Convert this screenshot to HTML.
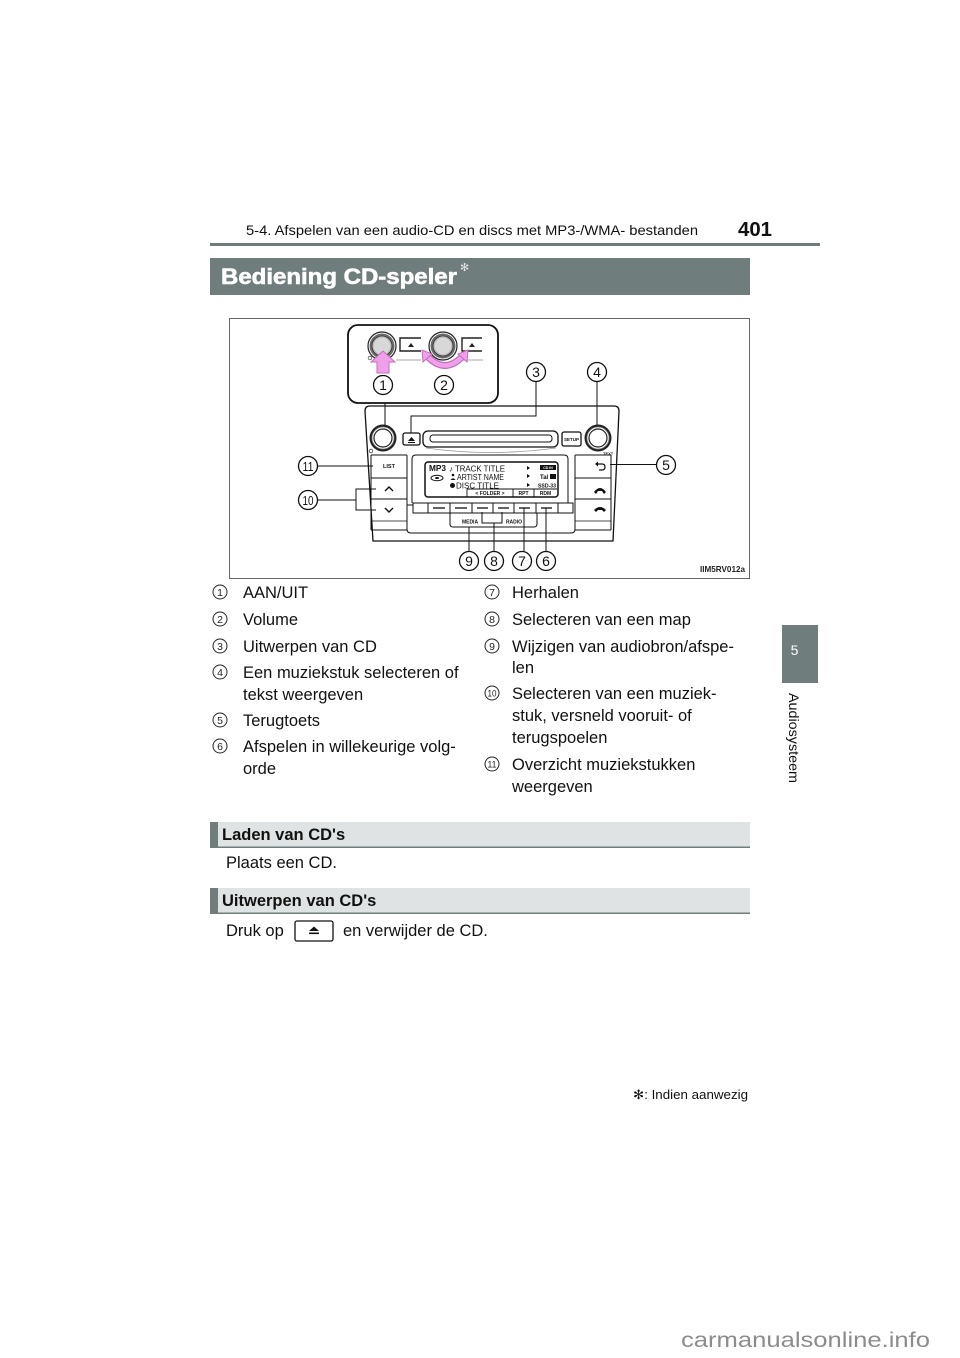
<!DOCTYPE html>
<html>
<head>
<meta charset="utf-8">
<style>
  html,body{margin:0;padding:0;background:#fff;}
  body{width:960px;height:1358px;overflow:hidden;}
  svg{display:block;}
  text{font-family:"Liberation Sans", Arial, sans-serif;}
</style>
</head>
<body>
<svg width="960" height="1358" viewBox="0 0 960 1358" xmlns="http://www.w3.org/2000/svg">
  <rect x="0" y="0" width="960" height="1358" fill="#fff"/>

  <!-- Header -->
  <text x="246" y="235" font-size="14" fill="#111" textLength="452" lengthAdjust="spacingAndGlyphs">5-4. Afspelen van een audio-CD en discs met MP3-/WMA- bestanden</text>
  <text x="738" y="236" font-size="20" font-weight="bold" fill="#111" textLength="34" lengthAdjust="spacingAndGlyphs">401</text>
  <rect x="210" y="243" width="610" height="3" fill="#6f7b7b"/>

  <!-- Title band -->
  <rect x="210" y="258" width="540" height="37" fill="#6f7d7c"/>
  <text x="221" y="284" font-size="22" font-weight="bold" fill="#fff" stroke="#fff" stroke-width="0.6" textLength="236" lengthAdjust="spacingAndGlyphs">Bediening CD-speler</text>
  <text x="460" y="271" font-size="11" fill="#e6e6e6" font-family="DejaVu Sans, sans-serif">✻</text>

  <!-- Diagram frame -->
  <rect x="229.5" y="318.5" width="520" height="260" fill="#fff" stroke="#666" stroke-width="1"/>

  <!-- Inset box -->
  <rect x="348" y="325" width="150" height="78" rx="10" ry="10" fill="#fff" stroke="#111" stroke-width="1.8"/>
  <!-- knob 1 -->
  <circle cx="382" cy="346" r="14" fill="#fff" stroke="#222" stroke-width="1.2"/>
  <circle cx="382" cy="346" r="12.5" fill="#6a6a6a"/>
  <circle cx="382" cy="346" r="10" fill="#bdbdbd" stroke="#333" stroke-width="0.8"/>
  <circle cx="382" cy="346" r="8.3" fill="#d8d8d8"/>
  <path d="M421,338 H400 V351 H421" fill="none" stroke="#222" stroke-width="1.4"/>
  <polygon points="408,347 414,347 411,343" fill="#222"/>
  <line x1="396" y1="360" x2="421" y2="360" stroke="#aaa" stroke-width="1"/>
  <circle cx="370" cy="358" r="1.8" fill="none" stroke="#555" stroke-width="0.8"/>
  <polygon points="383,351 371,362 377,362 377,373 389,373 389,362 395,362" fill="#f0a0ea" stroke="#c070b8" stroke-width="1"/>
  <!-- knob 2 -->
  <circle cx="443" cy="346" r="14" fill="#fff" stroke="#222" stroke-width="1.2"/>
  <circle cx="443" cy="346" r="12.5" fill="#6a6a6a"/>
  <circle cx="443" cy="346" r="10" fill="#bdbdbd" stroke="#333" stroke-width="0.8"/>
  <circle cx="443" cy="346" r="8.3" fill="#d8d8d8"/>
  <path d="M482,338 H462 V351 H482" fill="none" stroke="#222" stroke-width="1.4"/>
  <polygon points="469,347 475,347 472,343" fill="#222"/>
  <line x1="458" y1="360" x2="483" y2="360" stroke="#aaa" stroke-width="1"/>
  <!-- curved double arrow -->
  <path d="M428,357 Q445,374 462,357" fill="none" stroke="#c070b8" stroke-width="7"/>
  <path d="M428,357 Q445,374 462,357" fill="none" stroke="#f0a0ea" stroke-width="4.6"/>
  <polygon points="422,350 423,362 432,354" fill="#f0a0ea" stroke="#c070b8" stroke-width="1"/>
  <polygon points="468,350 467,362 458,354" fill="#f0a0ea" stroke="#c070b8" stroke-width="1"/>

  <!-- Main unit outline -->
  <path d="M365,411 Q365,406 370,406 H614 Q619,406 619,411 L613,541 H373 Z" fill="#fff" stroke="#111" stroke-width="1.3"/>
  <line x1="371" y1="455" x2="371" y2="530" stroke="#111" stroke-width="1"/>
  <line x1="611" y1="455" x2="611" y2="530" stroke="#111" stroke-width="1"/>
  <line x1="371" y1="530" x2="407" y2="530" stroke="#111" stroke-width="1"/>
  <line x1="575" y1="530" x2="611" y2="530" stroke="#111" stroke-width="1"/>

  <!-- knobs main -->
  <circle cx="383" cy="438" r="13.5" fill="#222"/>
  <circle cx="383" cy="438" r="11" fill="#fff" stroke="#888" stroke-width="0.8"/>
  <circle cx="383" cy="438" r="9" fill="#fff" stroke="#222" stroke-width="1.2"/>
  <circle cx="371" cy="451" r="1.8" fill="none" stroke="#444" stroke-width="0.8"/>
  <circle cx="598" cy="438" r="13.5" fill="#222"/>
  <circle cx="598" cy="438" r="11" fill="#fff" stroke="#888" stroke-width="0.8"/>
  <circle cx="598" cy="438" r="9" fill="#fff" stroke="#222" stroke-width="1.2"/>
  <text x="603" y="455" font-size="4" font-weight="bold" fill="#111">TEXT</text>

  <!-- eject, slot, setup -->
  <rect x="403" y="433" width="17" height="12" rx="2" fill="#fff" stroke="#111" stroke-width="1.3"/>
  <polygon points="408,441 415,441 411.5,437" fill="#111"/>
  <rect x="408" y="442" width="7" height="1" fill="#111"/>
  <rect x="423" y="431" width="135" height="16" rx="5" fill="#fff" stroke="#111" stroke-width="1.3"/>
  <rect x="430" y="435" width="122" height="7" rx="3" fill="#fff" stroke="#111" stroke-width="1"/>
  <path d="M426,448 Q490,457 556,448" fill="none" stroke="#999" stroke-width="0.8"/>
  <rect x="562" y="432" width="19" height="14" rx="2" fill="#fff" stroke="#111" stroke-width="1.3"/>
  <text x="571.5" y="441" font-size="4.5" font-weight="bold" fill="#111" text-anchor="middle">SETUP</text>

  <!-- left column -->
  <line x1="371" y1="455" x2="407" y2="455" stroke="#111" stroke-width="1"/>
  <line x1="371" y1="478" x2="407" y2="478" stroke="#111" stroke-width="1"/>
  <line x1="371" y1="499" x2="407" y2="499" stroke="#111" stroke-width="1"/>
  <line x1="371" y1="521" x2="407" y2="521" stroke="#111" stroke-width="0.8"/>
  <text x="389" y="468" font-size="5.5" font-weight="bold" fill="#111" text-anchor="middle">LIST</text>
  <path d="M385,491 L389,487 L393,491" fill="none" stroke="#111" stroke-width="1.4"/>
  <path d="M385,508 L389,512 L393,508" fill="none" stroke="#111" stroke-width="1.4"/>

  <!-- right column -->
  <line x1="575" y1="455" x2="611" y2="455" stroke="#111" stroke-width="1"/>
  <line x1="575" y1="478" x2="611" y2="478" stroke="#111" stroke-width="1"/>
  <line x1="575" y1="499" x2="611" y2="499" stroke="#111" stroke-width="1"/>
  <line x1="575" y1="521" x2="611" y2="521" stroke="#111" stroke-width="0.8"/>
  <path d="M597,464 H602 Q605,464 605,467 Q605,470 602,470 H599" fill="none" stroke="#111" stroke-width="1.2"/>
  <polygon points="595,464 598,461.5 598,466.5" fill="#111"/>
  <path d="M594,492 Q600,484 606,492 L604,494 L602,491 L598,491 L596,494 Z" fill="#111"/>
  <path d="M594,510 Q600,504 606,510 L604,512 L602,510 L598,510 L596,512 Z" fill="#111"/>

  <!-- center panel -->
  <path d="M407,455 V529 Q407,533 411,533 H571 Q575,533 575,529 V455" fill="none" stroke="#111" stroke-width="1"/>
  <path d="M412,503 V459 Q412,455 416,455 H564 Q568,455 568,459 V503" fill="none" stroke="#111" stroke-width="1"/>
  <!-- screen -->
  <rect x="425" y="462" width="133" height="35" rx="3" fill="#fff" stroke="#111" stroke-width="1.5"/>
  <text x="429" y="471" font-size="8.5" font-weight="bold" fill="#111" textLength="17" lengthAdjust="spacingAndGlyphs">MP3</text>
  <ellipse cx="437" cy="478" rx="6" ry="2.8" fill="#fff" stroke="#111" stroke-width="1"/>
  <ellipse cx="437" cy="478" rx="2" ry="1" fill="#111"/>
  <text x="449" y="471.5" font-size="8" fill="#111" textLength="56" lengthAdjust="spacingAndGlyphs">♪ TRACK TITLE</text>
  <circle cx="453" cy="475" r="1.3" fill="#111"/>
  <path d="M450.5,480 Q453,476.5 455.5,480 Z" fill="#111"/>
  <text x="457" y="480" font-size="8" fill="#111" textLength="47" lengthAdjust="spacingAndGlyphs">ARTIST NAME</text>
  <circle cx="452.5" cy="485.5" r="2.5" fill="#111"/>
  <text x="456" y="488.5" font-size="8" fill="#111" textLength="43" lengthAdjust="spacingAndGlyphs">DISC TITLE</text>
  <polygon points="527,466 527,470 530,468" fill="#111"/>
  <polygon points="527,474 527,478 530,476" fill="#111"/>
  <polygon points="527,483 527,487 530,485" fill="#111"/>
  <rect x="540" y="465" width="16" height="5" fill="#111"/>
  <text x="548" y="469" font-size="3.5" font-weight="bold" fill="#fff" text-anchor="middle">CD IN</text>
  <text x="540" y="479" font-size="6" font-weight="bold" fill="#111">Tal</text>
  <rect x="550" y="474" width="6" height="5" fill="#111"/>
  <text x="538" y="487.5" font-size="5" font-weight="bold" fill="#111" textLength="18" lengthAdjust="spacingAndGlyphs">SSD-33</text>
  <line x1="467" y1="489" x2="557" y2="489" stroke="#111" stroke-width="0.9"/>
  <line x1="467" y1="489" x2="467" y2="497" stroke="#111" stroke-width="0.9"/>
  <line x1="513" y1="489" x2="513" y2="497" stroke="#111" stroke-width="0.9"/>
  <line x1="534" y1="489" x2="534" y2="497" stroke="#111" stroke-width="0.9"/>
  <text x="490" y="495" font-size="5" font-weight="bold" fill="#111" text-anchor="middle">&lt; FOLDER &gt;</text>
  <text x="523.5" y="495" font-size="5" font-weight="bold" fill="#111" text-anchor="middle">RPT</text>
  <text x="545.5" y="495" font-size="5" font-weight="bold" fill="#111" text-anchor="middle">RDM</text>

  <!-- bottom button row -->
  <line x1="407" y1="505" x2="413" y2="505" stroke="#111" stroke-width="1"/>
  <rect x="413" y="503" width="160" height="10" fill="#fff" stroke="#111" stroke-width="1"/>
  <g stroke="#111" stroke-width="1">
    <line x1="428" y1="503" x2="428" y2="513"/>
    <line x1="450" y1="503" x2="450" y2="513"/>
    <line x1="472" y1="503" x2="472" y2="513"/>
    <line x1="493" y1="503" x2="493" y2="513"/>
    <line x1="514" y1="503" x2="514" y2="513"/>
    <line x1="536" y1="503" x2="536" y2="513"/>
    <line x1="558" y1="503" x2="558" y2="513"/>
  </g>
  <g stroke="#111" stroke-width="1.3">
    <line x1="433" y1="508" x2="445" y2="508"/>
    <line x1="455" y1="508" x2="467" y2="508"/>
    <line x1="477" y1="508" x2="488" y2="508"/>
    <line x1="498" y1="508" x2="509" y2="508"/>
    <line x1="519" y1="508" x2="530" y2="508"/>
    <line x1="541" y1="508" x2="552" y2="508"/>
  </g>
  <path d="M450,513 V524 Q450,527 453,527 H534 Q537,527 537,524 V513" fill="none" stroke="#111" stroke-width="1"/>
  <text x="470" y="523.5" font-size="5" font-weight="bold" fill="#111" text-anchor="middle">MEDIA</text>
  <text x="514" y="523.5" font-size="5" font-weight="bold" fill="#111" text-anchor="middle">RADIO</text>

  <!-- leaders -->
  <g fill="none" stroke="#111" stroke-width="1">
    <path d="M385,403 V425"/>
    <path d="M536,381.5 V416 H411 V433"/>
    <path d="M597,381.5 V425"/>
    <path d="M656.5,464.5 H610"/>
    <path d="M318,466 H373"/>
    <path d="M318,500 H356"/>
    <path d="M376,489 H356 V510 H376"/>
    <path d="M469,527 V551.5"/>
    <path d="M482,512 V523 H502 V512"/>
    <path d="M494,523 V551.5"/>
    <path d="M524,508 V551.5"/>
    <path d="M546,508 V551.5"/>
  </g>

  <!-- number labels -->
  <g fill="#fff" stroke="#111" stroke-width="1.3">
    <circle cx="383" cy="385" r="9.5"/>
    <circle cx="444" cy="385" r="9.5"/>
    <circle cx="536" cy="372" r="9.5"/>
    <circle cx="597" cy="372" r="9.5"/>
    <circle cx="666" cy="465" r="9.5"/>
    <circle cx="308" cy="466" r="9.5"/>
    <circle cx="308" cy="500" r="9.5"/>
    <circle cx="469" cy="561" r="9.5"/>
    <circle cx="494" cy="561" r="9.5"/>
    <circle cx="522" cy="561" r="9.5"/>
    <circle cx="546" cy="561" r="9.5"/>
  </g>
  <g font-size="14" fill="#111" text-anchor="middle">
    <text x="383" y="390">1</text>
    <text x="444" y="390">2</text>
    <text x="536" y="377">3</text>
    <text x="597" y="377">4</text>
    <text x="666" y="470">5</text>
    <text x="469" y="566">9</text>
    <text x="494" y="566">8</text>
    <text x="522" y="566">7</text>
    <text x="546" y="566">6</text>
  </g>
  <text x="302.5" y="471" font-size="13" fill="#111" textLength="11" lengthAdjust="spacingAndGlyphs">11</text>
  <text x="302.5" y="505" font-size="13" fill="#111" textLength="11" lengthAdjust="spacingAndGlyphs">10</text>

  <text x="700" y="572" font-size="8.5" font-weight="bold" fill="#222" textLength="45" lengthAdjust="spacingAndGlyphs">IIM5RV012a</text>

  <!-- Lists -->
  <g fill="#fff" stroke="#222" stroke-width="1">
    <circle cx="220" cy="592" r="7"/>
    <circle cx="220" cy="619" r="7"/>
    <circle cx="220" cy="646" r="7"/>
    <circle cx="220" cy="672" r="7"/>
    <circle cx="220" cy="720" r="7"/>
    <circle cx="220" cy="746" r="7"/>
    <circle cx="492" cy="592" r="7"/>
    <circle cx="492" cy="619" r="7"/>
    <circle cx="492" cy="646" r="7"/>
    <circle cx="492" cy="693" r="7"/>
    <circle cx="492" cy="764" r="7"/>
  </g>
  <g font-size="10.5" fill="#222" text-anchor="middle">
    <text x="220" y="596">1</text>
    <text x="220" y="623">2</text>
    <text x="220" y="650">3</text>
    <text x="220" y="676">4</text>
    <text x="220" y="724">5</text>
    <text x="220" y="750">6</text>
    <text x="492" y="596">7</text>
    <text x="492" y="623">8</text>
    <text x="492" y="650">9</text>
  </g>
  <text x="487.5" y="696.5" font-size="9.5" fill="#222" textLength="9" lengthAdjust="spacingAndGlyphs">10</text>
  <text x="487.5" y="767.5" font-size="9.5" fill="#222" textLength="9" lengthAdjust="spacingAndGlyphs">11</text>

  <g font-size="16.5" fill="#111">
    <text x="243" y="598">AAN/UIT</text>
    <text x="243" y="625">Volume</text>
    <text x="243" y="652">Uitwerpen van CD</text>
    <text x="243" y="678">Een muziekstuk selecteren of</text>
    <text x="243" y="700">tekst weergeven</text>
    <text x="243" y="726">Terugtoets</text>
    <text x="243" y="752">Afspelen in willekeurige volg-</text>
    <text x="243" y="774">orde</text>

    <text x="512" y="598">Herhalen</text>
    <text x="512" y="625">Selecteren van een map</text>
    <text x="512" y="652">Wijzigen van audiobron/afspe-</text>
    <text x="512" y="673">len</text>
    <text x="512" y="699">Selecteren van een muziek-</text>
    <text x="512" y="721">stuk, versneld vooruit- of</text>
    <text x="512" y="743">terugspoelen</text>
    <text x="512" y="770">Overzicht muziekstukken</text>
    <text x="512" y="792">weergeven</text>
  </g>

  <!-- Side tab -->
  <rect x="782" y="625" width="36" height="58" fill="#6f7d7c"/>
  <text x="794.5" y="655" font-size="14" fill="#fff" text-anchor="middle">5</text>
  <text transform="translate(789,693) rotate(90)" x="0" y="0" font-size="14" fill="#111" textLength="90" lengthAdjust="spacingAndGlyphs">Audiosysteem</text>

  <!-- Laden van CD's -->
  <rect x="210" y="822" width="540" height="25" fill="#dfe3e3"/>
  <rect x="210" y="822" width="8" height="26" fill="#6f7d7c"/>
  <rect x="210" y="846.5" width="540" height="1.5" fill="#6f7d7c"/>
  <text x="222" y="840" font-size="16.5" font-weight="bold" fill="#111">Laden van CD's</text>
  <text x="226" y="868" font-size="16.5" fill="#111">Plaats een CD.</text>

  <!-- Uitwerpen van CD's -->
  <rect x="210" y="888" width="540" height="25" fill="#dfe3e3"/>
  <rect x="210" y="888" width="8" height="26" fill="#6f7d7c"/>
  <rect x="210" y="912.5" width="540" height="1.5" fill="#6f7d7c"/>
  <text x="222" y="906" font-size="16.5" font-weight="bold" fill="#111">Uitwerpen van CD's</text>
  <text x="226" y="936" font-size="16.5" fill="#111">Druk op</text>
  <rect x="295" y="921" width="38" height="20" rx="2" fill="#fff" stroke="#111" stroke-width="1.3"/>
  <polygon points="309,931 319,931 314,926.5" fill="#111"/>
  <rect x="309" y="932.5" width="10" height="1.6" fill="#111"/>
  <text x="343" y="936" font-size="16.5" fill="#111">en verwijder de CD.</text>

  <!-- Footnote -->
  <text x="633" y="1099" font-size="13" fill="#111" textLength="115" lengthAdjust="spacingAndGlyphs"><tspan font-family="DejaVu Sans, sans-serif">✻</tspan>: Indien aanwezig</text>

  <!-- Watermark -->
  <text x="681" y="1347" font-size="21" fill="#8c8c8c" textLength="249" lengthAdjust="spacingAndGlyphs">carmanualsonline.info</text>
</svg>
</body>
</html>
